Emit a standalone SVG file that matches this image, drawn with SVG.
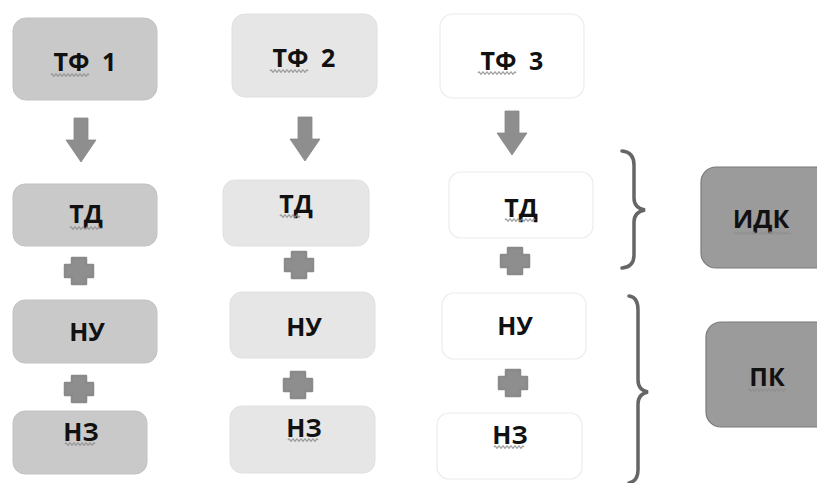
<svg xmlns="http://www.w3.org/2000/svg" width="817" height="483" viewBox="0 0 817 483">
<defs>
<style>
.c1{fill:#c9c9c9;stroke:#c2c2c2;stroke-width:1}
.c2{fill:#e6e6e6;stroke:#e0e0e0;stroke-width:1}
.c3{fill:#ffffff;stroke:#ececec;stroke-width:1.2}
.dk{fill:#9b9b9b;stroke:#7a7a7a;stroke-width:1.2}
.t{font-family:"Open Sans","DejaVu Sans",sans-serif;font-weight:700;font-size:25px;fill:#111;text-anchor:middle}
.ar{fill:#8e8e8e;stroke:#888;stroke-width:0.8}
.pl{fill:#8e8e8e;stroke:#8a8a8a;stroke-width:2.5;stroke-linejoin:round}
.br{fill:none;stroke:#666;stroke-width:3.5;stroke-linecap:round}
.sq{fill:none;stroke:#8f8f8f;stroke-width:1.1}
</style>
<path id="arrow" d="M-7,0 H7 V22 H15 L0,44 L-15,22 H-7 Z"/>
<path id="plus" d="M-7,-13 H7 V-6 H14 V6 H7 V13 H-7 V6 H-14 V-6 H-7 Z"/>
<path id="wt" d="M0,0 q1,-2.5 2,0 t2,0 t2,0 t2,0 t2,0 t2,0 t2,0 t2,0 t2,0 t2,0"/>
<path id="ws" d="M0,0 q1,-2.5 2,0 t2,0 t2,0 t2,0 t2,0 t2,0 t2,0 t2,0 t2,0 t2,0 t2,0 t2,0 t2,0 t2,0 t2,0"/>
<path id="wv" d="M0,0 q1,-2.5 2,0 t2,0 t2,0 t2,0 t2,0 t2,0 t2,0 t2,0 t2,0 t2,0 t2,0 t2,0 t2,0 t2,0 t2,0 t2,0 t2,0 t2,0 t2,0"/>
</defs>
<rect width="817" height="483" fill="#ffffff"/>

<g id="connectors">
<use href="#arrow" class="ar" x="81" y="118"/>
<use href="#arrow" class="ar" x="305" y="117"/>
<use href="#arrow" class="ar" x="512" y="111"/>
<use href="#plus" class="pl" x="79" y="271"/>
<use href="#plus" class="pl" x="79" y="389"/>
<use href="#plus" class="pl" x="299" y="265"/>
<use href="#plus" class="pl" x="298" y="385"/>
<use href="#plus" class="pl" x="515" y="261"/>
<use href="#plus" class="pl" x="513" y="383"/>
<path class="br" d="M622,151 Q634,152 634,165 L634,198 Q634,208 645,210 Q634,212 634,222 L634,255 Q634,267 622,268"/>
<path class="br" d="M629,296 Q638,297 638,310 L638,380 Q638,390 648,392 Q638,394 638,404 L638,470 Q638,481 629,483"/>
</g>

<g id="tf1"><rect class="c1" x="13" y="18" width="144" height="82" rx="13"/><text class="t" x="85" y="71" word-spacing="6">ТФ 1</text><use href="#wv" class="sq" x="51" y="75"/></g>
<g id="tf2"><rect class="c2" x="232" y="14" width="145" height="83" rx="13"/><text class="t" x="304" y="67" word-spacing="6">ТФ 2</text><use href="#wv" class="sq" x="270" y="71"/></g>
<g id="tf3"><rect class="c3" x="440" y="14" width="144" height="84" rx="13"/><text class="t" x="512" y="70" word-spacing="6">ТФ 3</text><use href="#wv" class="sq" x="478" y="73"/></g>

<g id="td1"><rect class="c1" x="13" y="184" width="144" height="62" rx="12"/><text class="t" x="86" y="223">ТД</text><use href="#ws" class="sq" x="70" y="228"/></g>
<g id="td2"><rect class="c2" x="223" y="180" width="146" height="66" rx="12"/><text class="t" x="296" y="213">ТД</text><use href="#wt" class="sq" x="280" y="216"/></g>
<g id="td3"><rect class="c3" x="449" y="172" width="144" height="66" rx="12"/><text class="t" x="521" y="217">ТД</text><use href="#ws" class="sq" x="505" y="220"/></g>

<g id="nu1"><rect class="c1" x="13" y="300" width="144" height="63" rx="12"/><text class="t" x="87" y="341">НУ</text></g>
<g id="nu2"><rect class="c2" x="230" y="292" width="145" height="66" rx="12"/><text class="t" x="304" y="336">НУ</text></g>
<g id="nu3"><rect class="c3" x="442" y="293" width="144" height="66" rx="12"/><text class="t" x="515" y="335">НУ</text></g>

<g id="nz1"><rect class="c1" x="13" y="411" width="134" height="63" rx="12"/><text class="t" x="81" y="441">НЗ</text><use href="#ws" class="sq" x="65" y="444"/></g>
<g id="nz2"><rect class="c2" x="230" y="406" width="145" height="67" rx="12"/><text class="t" x="304" y="437">НЗ</text><use href="#ws" class="sq" x="288" y="440"/></g>
<g id="nz3"><rect class="c3" x="437" y="413" width="145" height="66" rx="12"/><text class="t" x="510" y="444">НЗ</text><use href="#ws" class="sq" x="494" y="447"/></g>

<g id="idk"><rect class="dk" x="701" y="167" width="130" height="101" rx="15"/><text class="t" x="761" y="228">ИДК</text><use href="#wv" class="sq" x="733" y="233"/><use href="#wt" class="sq" x="771" y="233"/></g>
<g id="pk"><rect class="dk" x="706" y="322" width="125" height="105" rx="15"/><text class="t" x="767" y="386">ПК</text><use href="#wv" class="sq" x="748" y="390"/></g>
</svg>
